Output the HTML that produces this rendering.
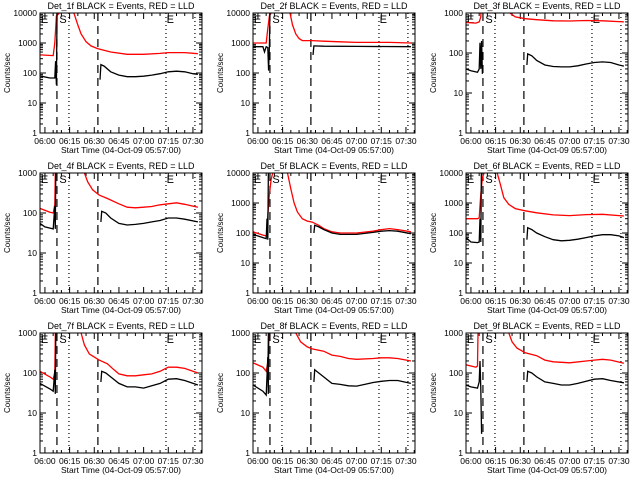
<!DOCTYPE html>
<html><head><meta charset="utf-8"><style>
body{margin:0;background:#fff}
svg{display:block}
text{font-family:"Liberation Sans",sans-serif;fill:#000}
</style></head><body>
<svg id="fig" width="640" height="480" viewBox="0 0 640 480"></svg>
<script>
// time in minutes after 06:00; values counts/sec
const xTickLabels = ["06:00","06:15","06:30","06:45","07:00","07:15","07:30"];
const xTickMinutes = [0,15,30,45,60,75,90];
const panelNames = ["Det_1f","Det_2f","Det_3f","Det_4f","Det_5f","Det_6f","Det_7f","Det_8f","Det_9f"];
const panelYMax = [10000,10000,1000,1000,10000,10000,1000,1000,1000];
const dashedLines = [7.3,32.2];
const dottedLines = [14.6,73.6,91.2];
const det1Red=[[-3,400],[5,380],[6,1000],[7,8000],[8,9000],[10,12000],[11,30000],null,[16,30000],[17.6,10000],[20,4000],[22,2000],[25,1100],[28,800],[32,650],[40,500],[50,420],[60,420],[70,450],[75,480],[85,480],[93,440]];
const det1Black=[[-3,80],[3,68],[6,68],[6.5,250],[7,40],[7.5,100000],null,[33.5,60],[34,190],[36,170],[40,110],[45,85],[50,75],[55,75],[60,78],[65,85],[70,95],[75,110],[80,115],[85,110],[90,95],[93,90]];
const det2Red=[[-3,1000],[5,1000],[6,3000],[7,8000],[8,10000],[9,30000],null,[18,30000],[19.5,10000],[21,4000],[23,2000],[25,1400],[27,1200],[33,1200],[40,1150],[50,1100],[60,1050],[70,1050],[80,1050],[93,1000]];
const det2Black=[[-3,750],[3,750],[4,500],[5,750],[6,700],[6.5,120],[7,800],[7.5,100000],null,[33.5,400],[34,800],[40,780],[60,770],[93,750]];
const det3Red=[[-3,580],[3,560],[5,600],[6,800],[6.5,3000],null,[22,3000],[23.7,1000],[27,800],[33,720],[40,680],[50,640],[60,630],[70,650],[80,640],[93,600]];
const det3Black=[[-3,40],[0,36],[4,33],[5,40],[5.5,180],[6,40],[6.5,200],[7,30],null,[34,50],[34.5,95],[37,85],[40,65],[45,50],[50,46],[55,45],[60,45],[65,48],[70,53],[75,58],[80,60],[85,58],[90,50],[93,47]];
const det4Red=[[-3,130],[3,105],[5,100],[6,160],[6.5,3000],null,[23,3000],[24,1000],[26,600],[29,380],[33,280],[38,230],[45,170],[50,140],[55,135],[60,140],[65,145],[70,160],[75,170],[80,180],[85,165],[93,140]];
const det4Black=[[-3,55],[0,45],[5,40],[6,150],[6.3,40],[7,100000],null,[34,60],[34.5,110],[37,100],[40,75],[45,55],[50,50],[55,52],[60,55],[65,60],[70,65],[75,75],[80,75],[85,70],[93,60]];
const det5Red=[[-3,110],[3,85],[5,80],[5.5,100],[6,400],[7,2000],[8,6000],[9,10000],[10,30000],null,[16,30000],[18,10000],[20,3000],[22,1000],[24,500],[27,300],[30,250],[33,230],[37,180],[40,140],[45,110],[50,100],[60,100],[70,115],[75,130],[80,140],[85,130],[93,110]];
const det5Black=[[-3,90],[3,70],[5,65],[5.5,300],[6,60],[6.5,100000],null,[34,100],[34.5,180],[37,160],[40,130],[45,100],[50,90],[60,90],[70,105],[75,115],[80,120],[85,115],[93,95]];
const det6Red=[[-3,300],[4,300],[5,320],[6,2000],[7,7000],[8,10000],[9,30000],null,[14,30000],[16,10000],[18,4000],[20,1500],[23,900],[27,650],[33,550],[40,470],[50,400],[60,380],[70,410],[80,420],[93,370]];
const det6Black=[[-3,70],[0,50],[4,48],[5,50],[5.5,300],[6,50],[6.5,100000],null,[34,60],[34.5,150],[37,130],[40,100],[45,75],[50,60],[55,55],[60,57],[65,62],[70,70],[75,80],[80,88],[85,88],[90,80],[93,70]];
const det7Red=[[-3,110],[3,80],[5,70],[6,100],[6.5,3000],null,[21,3000],[22,1000],[24,500],[27,300],[30,250],[33,210],[38,170],[42,120],[45,95],[50,85],[55,85],[60,90],[65,95],[70,110],[75,140],[80,140],[85,130],[93,100]];
const det7Black=[[-3,55],[3,40],[5,35],[6,120],[6.3,30],[7,100000],null,[34,60],[34.5,110],[37,100],[40,80],[45,55],[50,45],[55,45],[60,42],[65,48],[70,55],[75,70],[80,72],[85,65],[93,50]];
const det8Red=[[-3,180],[3,140],[5,110],[6,180],[6.5,3000],null,[22,3000],[23,1000],[26,600],[30,450],[33,400],[40,350],[45,280],[50,260],[55,230],[60,220],[70,230],[75,240],[80,240],[85,230],[93,200]];
const det8Black=[[-3,50],[3,35],[5,28],[6,250],[6.3,30],[7,100000],null,[34,60],[34.5,120],[37,100],[40,80],[45,55],[50,52],[55,48],[60,47],[65,52],[70,58],[75,62],[80,65],[85,65],[93,55]];
const det9Red=[[-3,160],[3,140],[4,150],[5,100000],null,[22,3000],[23,1000],[25,600],[28,420],[33,320],[40,270],[45,210],[50,190],[60,180],[70,200],[75,210],[80,220],[85,210],[93,175]];
const det9Black=[[-3,50],[0,45],[4,42],[5,60],[5.5,200],[6,40],[6.5,3],null,[34,60],[34.5,110],[37,100],[40,80],[45,60],[50,55],[55,50],[60,50],[65,55],[70,62],[75,70],[80,72],[85,65],[93,57]];
const redSeries=[det1Red,det2Red,det3Red,det4Red,det5Red,det6Red,det7Red,det8Red,det9Red];
const blackSeries=[det1Black,det2Black,det3Black,det4Black,det5Black,det6Black,det7Black,det8Black,det9Black];

const NS="http://www.w3.org/2000/svg";
const svg=document.getElementById('fig');
const colX=[40,253,466], rowY=[13,173,333], PW=162, PH=120, TMIN=-3, TMAX=95.5;
function mk(tag,attrs,parent){const e=document.createElementNS(NS,tag);for(const k in attrs)e.setAttribute(k,attrs[k]);parent.appendChild(e);return e;}

for(let p=0;p<9;p++){
  const x0=colX[p%3], y0=rowY[Math.floor(p/3)], ymax=panelYMax[p];
  const dec=Math.log10(ymax);
  const xs=t=>x0+(t-TMIN)/(TMAX-TMIN)*PW;
  const ys=v=>y0+PH-(Math.log10(Math.max(v,0.01)))/dec*PH;
  const g=mk('g',{},svg);
  
  
  const cp=mk('clipPath',{id:'c'+p},g); mk('rect',{x:x0,y:y0,width:PW,height:PH},cp);
  const ti=mk('text',{x:x0+81,y:y0-4,'font-size':'9','text-anchor':'middle'},g);
  ti.textContent=panelNames[p]+" BLACK = Events, RED = LLD";
  
  
  const yl=mk('text',{x:0,y:0,'font-size':'8','text-anchor':'middle',transform:`translate(${x0-30},${y0+PH/2}) rotate(-90)`},g);
  yl.textContent="Counts/sec";
  
  
  const xt=mk('text',{x:x0+81,y:y0+PH+20,'font-size':'8.5','text-anchor':'middle'},g);
  xt.textContent="Start Time (04-Oct-09 05:57:00)";
  
  
  for(let d=0;d<=dec;d++){
    const v=Math.pow(10,d), y=ys(v);
    mk('line',{x1:x0,x2:x0+6,y1:y,y2:y,stroke:'#000','stroke-width':1},g);
    mk('line',{x1:x0+PW-6,x2:x0+PW,y1:y,y2:y,stroke:'#000','stroke-width':1},g);
    const tl=mk('text',{x:x0-3,y:y+3,'font-size':'8.5','text-anchor':'end'},g);
    tl.textContent=String(v);
    
    
    if(d<dec)for(let m=2;m<10;m++){const ym=ys(v*m);
      mk('line',{x1:x0,x2:x0+3,y1:ym,y2:ym,stroke:'#000','stroke-width':1},g);
      mk('line',{x1:x0+PW-3,x2:x0+PW,y1:ym,y2:ym,stroke:'#000','stroke-width':1},g);}
  }
  for(let m=0;m<=95;m+=5){const x=xs(m),L=(m%15===0)?6:3;
    mk('line',{x1:x,x2:x,y1:y0+PH,y2:y0+PH-L,stroke:'#000','stroke-width':1},g);
    mk('line',{x1:x,x2:x,y1:y0,y2:y0+L,stroke:'#000','stroke-width':1},g);}
  xTickMinutes.forEach((m,i)=>{const tl=mk('text',{x:xs(m),y:y0+PH+11,'font-size':'8.5','text-anchor':'middle'},g);
    tl.textContent=xTickLabels[i];
    
    });
  dashedLines.forEach(t=>mk('line',{x1:xs(t),x2:xs(t),y1:y0,y2:y0+PH,stroke:'#000','stroke-dasharray':'8,5','stroke-width':1.2},g));
  dottedLines.forEach(t=>mk('line',{x1:xs(t),x2:xs(t),y1:y0,y2:y0+PH,stroke:'#000','stroke-dasharray':'1,3','stroke-width':1.2},g));
  [["E",-2.5],["S",8.8],["E",74]].forEach(([s,t])=>{const e=mk('text',{x:xs(t),y:y0+10,'font-size':'11'},g);e.textContent=s;
    
    });
  const draw=(arr,col,name)=>{let d='',pen=false;arr.forEach(pt=>{if(!pt){pen=false;return;}
    d+=(pen?'L':'M')+xs(pt[0]).toFixed(1)+','+ys(pt[1]).toFixed(1);pen=true;});
    const pa=mk('path',{d:d,fill:'none',stroke:col,'stroke-width':1.3,'clip-path':`url(#c${p})`},g);
    
    };
  draw(redSeries[p],'#ff0000','lld-red-line');
  draw(blackSeries[p],'#000000','events-black-line');
  const fr=mk('rect',{x:x0,y:y0,width:PW,height:PH,fill:'none',stroke:'#000','stroke-width':1},g);
  
  
}
</script>
</body></html>
